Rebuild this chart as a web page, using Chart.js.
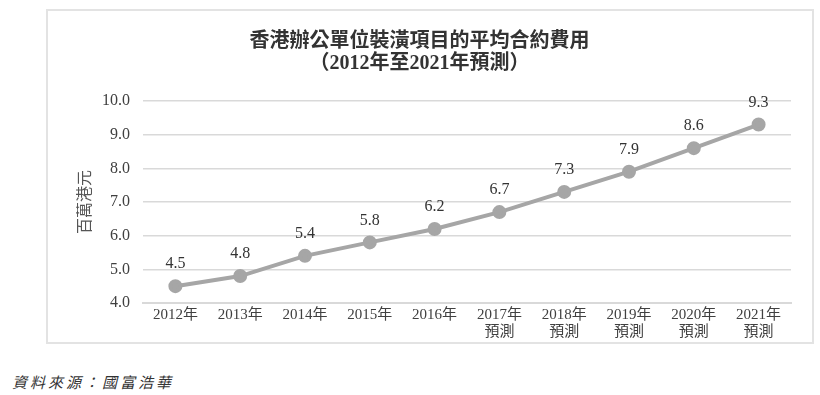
<!DOCTYPE html>
<html>
<head>
<meta charset="utf-8">
<script src="https://cdn.jsdelivr.net/npm/chart.js@4/dist/chart.umd.min.js"></script>
<style>
  html, body { margin:0; padding:0; background:#fff; width:820px; height:395px; overflow:hidden; }
  #box { position:absolute; left:46px; top:9px; width:764px; height:331px; border:2px solid #e3e3e3; }
  #box canvas { display:block; }
  #src { position:absolute; left:12px; top:371px; font-family:'Noto Sans CJK TC', sans-serif; font-style:italic; font-size:15px; letter-spacing:3px; color:#333; }
</style>
</head>
<body>
<div id="box"><canvas id="c" width="764" height="331"></canvas></div>
<div id="src">資料來源：國富浩華</div>
<script>
const categories = [["2012年"],["2013年"],["2014年"],["2015年"],["2016年"],["2017年","預測"],["2018年","預測"],["2019年","預測"],["2020年","預測"],["2021年","預測"]];
const values = [4.5, 4.8, 5.4, 5.8, 6.2, 6.7, 7.3, 7.9, 8.6, 9.3];
const titleLines = ["香港辦公單位裝潢項目的平均合約費用", "（2012年至2021年預測）"];
const yAxisTitle = "百萬港元";
const yMin = 4.0, yMax = 10.0, yStep = 1.0;

const FONT = "'Liberation Serif', 'Noto Sans CJK TC', serif";

const dataLabels = {
  id: 'dataLabels',
  afterDatasetsDraw(chart) {
    const ctx = chart.ctx;
    const meta = chart.getDatasetMeta(0);
    ctx.save();
    ctx.font = "16px " + FONT;
    ctx.fillStyle = "#333";
    ctx.textAlign = "center";
    ctx.textBaseline = "middle";
    meta.data.forEach((pt, i) => {
      ctx.fillText(values[i].toFixed(1), pt.x, pt.y - 22);
    });
    ctx.restore();
  }
};

new Chart(document.getElementById('c'), {
  type: 'line',
  data: {
    labels: categories,
    datasets: [{
      data: values,
      borderColor: '#a6a6a6',
      backgroundColor: '#a6a6a6',
      borderWidth: 4,
      pointRadius: 5,
      pointHoverRadius: 5,
      pointBackgroundColor: '#a6a6a6',
      pointBorderColor: '#a6a6a6',
      tension: 0
    }]
  },
  options: {
    responsive: false,
    animation: false,
    layout: { padding: { left: 0, right: 21, top: 0, bottom: 0 } },
    plugins: {
      legend: { display: false },
      tooltip: { enabled: false },
      title: {
        display: true,
        text: titleLines,
        color: '#333',
        font: { family: FONT, size: 20, weight: 'bold', lineHeight: 1.1 },
        padding: { top: 20, bottom: 26 }
      }
    },
    scales: {
      x: {
        offset: true,
        grid: { display: false, drawTicks: false },
        border: { display: true, color: '#d9d9d9', width: 2 },
        ticks: { color: '#404040', font: { family: FONT, size: 15, lineHeight: 1.1 }, padding: 4, maxRotation: 0, autoSkip: false },
        afterFit(s) { s.height = 39; }
      },
      y: {
        min: yMin, max: yMax,
        grid: { color: '#d9d9d9', lineWidth: 1.5, drawTicks: false },
        border: { display: false },
        ticks: { stepSize: yStep, color: '#404040', font: { family: FONT, size: 16 }, padding: 13, callback: v => v.toFixed(1) },
        title: { display: true, text: yAxisTitle, color: '#555', font: { family: "'Noto Sans CJK TC', sans-serif", size: 16 }, padding: { top: 26 } },
        afterFit(s) { s.width = 95; }
      }
    }
  },
  plugins: [dataLabels]
});
</script>
</body>
</html>
